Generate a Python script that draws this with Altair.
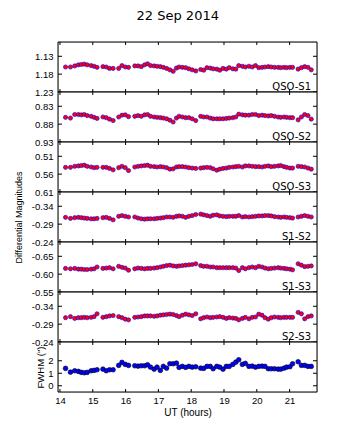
import altair as alt
import pandas as pd

times = [14.17, 14.32, 14.45, 14.56, 14.65, 14.74, 14.83, 14.95, 15.04, 15.13,
         15.31, 15.41, 15.51, 15.62,
         15.79, 15.89, 15.99, 16.09,
         16.28, 16.38, 16.48, 16.58, 16.67, 16.76, 16.87, 16.96, 17.06, 17.15,
         17.25, 17.35, 17.45, 17.55, 17.63, 17.73, 17.83, 17.93, 18.03, 18.14,
         18.29, 18.38, 18.48, 18.58, 18.67, 18.78, 18.87, 18.97, 19.07, 19.16,
         19.27, 19.36, 19.45, 19.56, 19.65, 19.76, 19.86, 19.96, 20.06, 20.16,
         20.25, 20.35, 20.44, 20.54, 20.65, 20.73, 20.83, 20.91, 21.01, 21.09,
         21.26, 21.36, 21.46, 21.56, 21.66]

qso_s1 = [1.160, 1.160, 1.157, 1.154, 1.153, 1.152, 1.154, 1.156, 1.158, 1.161,
          1.159, 1.160, 1.164, 1.164,
          1.164, 1.156, 1.160, 1.161,
          1.157, 1.157, 1.159, 1.154, 1.151, 1.156, 1.157, 1.158, 1.159, 1.161,
          1.164, 1.168, 1.172, 1.163, 1.160, 1.161, 1.162, 1.165, 1.168, 1.171,
          1.167, 1.169, 1.162, 1.163, 1.165, 1.166, 1.169, 1.164, 1.166, 1.162,
          1.165, 1.166, 1.156, 1.158, 1.160, 1.158, 1.160, 1.156, 1.162, 1.161,
          1.160, 1.159, 1.160, 1.161, 1.161, 1.162, 1.161, 1.162, 1.161, 1.161,
          1.166, 1.162, 1.159, 1.161, 1.168]

qso_s2 = [0.861, 0.863, 0.853, 0.853, 0.854, 0.853, 0.856, 0.858, 0.861, 0.864,
          0.860, 0.862, 0.866, 0.870,
          0.860, 0.855, 0.854, 0.859,
          0.858, 0.856, 0.858, 0.854, 0.853, 0.858, 0.860, 0.861, 0.862, 0.863,
          0.865, 0.869, 0.874, 0.863, 0.858, 0.860, 0.862, 0.862, 0.865, 0.870,
          0.858, 0.860, 0.860, 0.863, 0.865, 0.865, 0.865, 0.865, 0.864, 0.863,
          0.862, 0.860, 0.852, 0.854, 0.855, 0.855, 0.853, 0.853, 0.856, 0.855,
          0.856, 0.857, 0.856, 0.858, 0.860, 0.861, 0.860, 0.861, 0.862, 0.862,
          0.868, 0.860, 0.853, 0.856, 0.866]

qso_s3 = [0.541, 0.541, 0.538, 0.537, 0.536, 0.535, 0.538, 0.540, 0.542, 0.541,
          0.541, 0.541, 0.544, 0.548,
          0.542, 0.538, 0.542, 0.550,
          0.540, 0.538, 0.537, 0.536, 0.535, 0.538, 0.539, 0.540, 0.539, 0.540,
          0.542, 0.546, 0.545, 0.540, 0.539, 0.539, 0.540, 0.542, 0.543, 0.544,
          0.543, 0.542, 0.541, 0.542, 0.545, 0.549, 0.546, 0.544, 0.543, 0.541,
          0.540, 0.539, 0.538, 0.540, 0.537, 0.537, 0.538, 0.539, 0.539, 0.540,
          0.538, 0.537, 0.539, 0.538, 0.537, 0.536, 0.539, 0.541, 0.543, 0.543,
          0.538, 0.539, 0.540, 0.543, 0.546]

s1_s2 = [-0.309, -0.306, -0.308, -0.309, -0.308, -0.307, -0.306, -0.305, -0.305, -0.306,
         -0.308, -0.309, -0.306, -0.302,
         -0.312, -0.314, -0.312, -0.310,
         -0.310, -0.307, -0.305, -0.304, -0.305, -0.305, -0.305, -0.306, -0.307, -0.308,
         -0.310, -0.310, -0.309, -0.312, -0.313, -0.312, -0.309, -0.312, -0.314, -0.317,
         -0.318, -0.316, -0.314, -0.312, -0.315, -0.316, -0.313, -0.312, -0.311, -0.312,
         -0.312, -0.312, -0.314, -0.310, -0.311, -0.310, -0.311, -0.312, -0.313, -0.313,
         -0.314, -0.314, -0.313, -0.311, -0.310, -0.309, -0.310, -0.309, -0.308, -0.307,
         -0.310, -0.312, -0.314, -0.312, -0.310]

s1_s3 = [-0.616, -0.615, -0.616, -0.614, -0.614, -0.613, -0.613, -0.614, -0.615, -0.620,
         -0.616, -0.617, -0.618, -0.615,
         -0.622, -0.619, -0.617, -0.611,
         -0.615, -0.617, -0.616, -0.615, -0.616, -0.616, -0.617, -0.618, -0.620, -0.622,
         -0.624, -0.625, -0.623, -0.622, -0.623, -0.624, -0.625, -0.626, -0.627, -0.629,
         -0.624, -0.622, -0.622, -0.620, -0.620, -0.618, -0.618, -0.618, -0.618, -0.618,
         -0.618, -0.617, -0.610, -0.618, -0.615, -0.618, -0.620, -0.618, -0.622, -0.620,
         -0.617, -0.615, -0.616, -0.617, -0.618, -0.617, -0.616, -0.615, -0.614, -0.612,
         -0.629, -0.625, -0.621, -0.622, -0.623]

s2_s3 = [-0.308, -0.311, -0.306, -0.308, -0.308, -0.309, -0.308, -0.309, -0.311, -0.319,
         -0.309, -0.311, -0.313, -0.314,
         -0.311, -0.308, -0.304, -0.302,
         -0.309, -0.310, -0.311, -0.313, -0.313, -0.313, -0.312, -0.313, -0.315, -0.316,
         -0.317, -0.318, -0.317, -0.314, -0.311, -0.315, -0.318, -0.316, -0.314, -0.319,
         -0.305, -0.308, -0.310, -0.308, -0.309, -0.310, -0.311, -0.309, -0.306, -0.308,
         -0.307, -0.306, -0.302, -0.306, -0.309, -0.305, -0.309, -0.310, -0.318, -0.315,
         -0.308, -0.304, -0.308, -0.310, -0.309, -0.308, -0.309, -0.309, -0.309, -0.309,
         -0.323, -0.319, -0.305, -0.311, -0.313]

fwhm = [1.39, 1.09, 1.20, 1.15, 1.07, 1.04, 1.07, 1.20, 1.23, 1.28,
        1.33, 1.20, 1.28, 1.28,
        1.63, 1.87, 1.71, 1.63,
        1.60, 1.57, 1.60, 1.60, 1.68, 1.49, 1.33, 1.49, 1.23, 1.55,
        1.41, 1.76, 1.76, 1.81, 1.47, 1.55, 1.47, 1.55, 1.49, 1.52,
        1.41, 1.39, 1.55, 1.55, 1.36, 1.55, 1.49, 1.33, 1.55, 1.55,
        1.71, 1.89, 2.08, 1.71, 1.79, 1.55, 1.57, 1.49, 1.55, 1.57,
        1.55, 1.36, 1.36, 1.36, 1.33, 1.33, 1.41, 1.49, 1.52, 1.76,
        1.92, 1.63, 1.63, 1.55, 1.55]

hours = [14, 15, 16, 17, 18, 19, 20, 21]

panel_names = ["QSO-S1", "QSO-S2", "QSO-S3", "S1-S2", "S1-S3", "S2-S3", ""]
panel_values = [qso_s1, qso_s2, qso_s3, s1_s2, s1_s3, s2_s3, fwhm]
panel_domains = [[1.09, 1.23], [0.79, 0.93], [0.47, 0.61], [-0.38, -0.24],
                 [-0.69, -0.55], [-0.38, -0.24], [-0.5, 3.5]]
panel_ticks = [[1.13, 1.18, 1.23], [0.83, 0.88, 0.93], [0.51, 0.56, 0.61],
               [-0.34, -0.29, -0.24], [-0.65, -0.60, -0.55], [-0.34, -0.29, -0.24],
               [0, 1, 2]]

W, H = 259, 50
TK = 3
FONT = "DejaVu Sans"
xscale = alt.Scale(domain=[13.94, 21.835], nice=False, zero=False)


def make_panel(i):
    name = panel_names[i]
    is_fwhm = i == 6
    df = pd.DataFrame({"t": times, "val": panel_values[i]})
    yscale = alt.Scale(domain=panel_domains[i], reverse=not is_fwhm, nice=False, zero=False)

    if is_fwhm:
        xaxis = alt.Axis(values=hours, format="d", ticks=False, domain=False, grid=False,
                         labelPadding=3, labelFlush=False, labelFontSize=9.5,
                         title="UT (hours)", titleFontSize=10, titleFontWeight="normal",
                         titlePadding=3)
    else:
        xaxis = None

    fmt = "d" if is_fwhm else ".2f"
    yargs = dict(values=panel_ticks[i], format=fmt, ticks=False,
                 domain=False, grid=False, labelPadding=5, labelFontSize=9.5,
                 labelFlush=False, labelOverlap=False,
                 labelExpr="replace(format(datum.value, '%s'), '\u2212', '-')" % fmt)
    if i == 3:
        yargs.update(title="Differential Magnitudes", titleFontSize=9, titleFontWeight="normal",
                     titleX=-40, titleY=25, titleBaseline="middle", titleAlign="center")
    elif is_fwhm:
        yargs.update(title='FWHM (")', titleFontSize=9.5, titleFontWeight="normal",
                     titleX=-18, titleY=25, titleBaseline="middle", titleAlign="center")
    else:
        yargs.update(title=None)
    yaxis = alt.Axis(**yargs)

    xenc = alt.X("t:Q", scale=xscale, axis=xaxis)
    yenc = alt.Y("val:Q", scale=yscale, axis=yaxis)

    xt = pd.DataFrame({"t": hours})
    yt = pd.DataFrame({"val": panel_ticks[i]})
    frame = alt.Chart(pd.DataFrame({"f": [0]})).mark_rect(
        fillOpacity=0, stroke="black", strokeWidth=1
    ).encode(x=alt.value(0), x2=alt.value(W), y=alt.value(0), y2=alt.value(H))
    tick_top = alt.Chart(xt).mark_rule(color="black", strokeWidth=1).encode(
        x=xenc, y=alt.value(0), y2=alt.value(TK))
    tick_bot = alt.Chart(xt).mark_rule(color="black", strokeWidth=1).encode(
        x=xenc, y=alt.value(H - TK), y2=alt.value(H))
    tick_left = alt.Chart(yt).mark_rule(color="black", strokeWidth=1).encode(
        y=yenc, x=alt.value(0), x2=alt.value(4))
    tick_right = alt.Chart(yt).mark_rule(color="black", strokeWidth=1).encode(
        y=yenc, x=alt.value(W - 4), x2=alt.value(W))

    if is_fwhm:
        pts = alt.Chart(df).mark_circle(size=22, fill="#0000ff", stroke="black",
                                        strokeWidth=0.6, opacity=1).encode(x=xenc, y=yenc)
    else:
        pts = alt.Chart(df).mark_circle(size=18, fill="#ff0000", stroke="#0000ff",
                                        strokeWidth=0.6, opacity=1).encode(x=xenc, y=yenc)

    layers = [frame, tick_top, tick_bot, tick_left, tick_right, pts]
    if name:
        lab = alt.Chart(pd.DataFrame({"label": [name]})).mark_text(
            align="right", baseline="alphabetic", fontSize=10, font=FONT, color="black"
        ).encode(x=alt.value(W - 6), y=alt.value(H - 2.5), text="label:N")
        layers.append(lab)
    return alt.layer(*layers).properties(width=W, height=H)


chart = alt.vconcat(*[make_panel(i) for i in range(7)], spacing=0, bounds="flush").properties(
    title=alt.TitleParams("22 Sep 2014", fontSize=13, font=FONT, fontWeight="normal",
                          anchor="middle", offset=18, dx=12, color="black"),
    padding={"left": 5, "top": 2, "right": 5, "bottom": 5},
).configure_view(stroke="black", strokeWidth=1).configure_axis(
    labelFont=FONT, titleFont=FONT, labelColor="black", titleColor="black"
).configure(background="white")

chart.save("out.html", embed_options={"renderer": "svg", "actions": False})
